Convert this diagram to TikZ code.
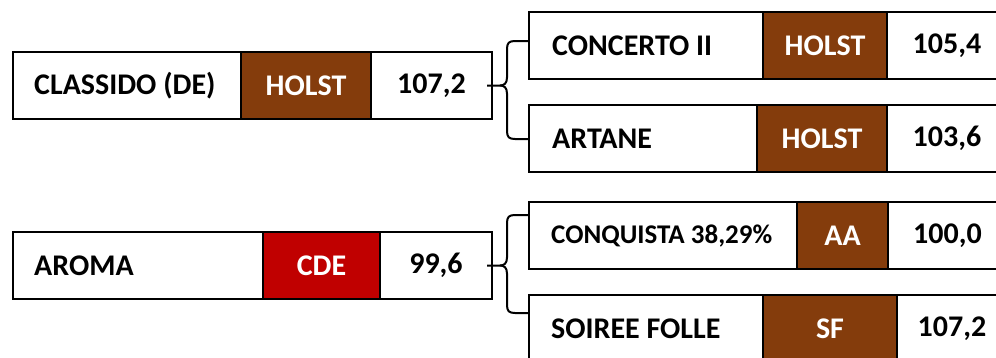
\documentclass[tikz,border=0pt]{standalone}
\usepackage{fontspec}
\setmainfont{Carlito}
\usetikzlibrary{calc}
\definecolor{brownc}{HTML}{843C0C}
\definecolor{redc}{HTML}{C00000}
\begin{document}
\begin{tikzpicture}[x=1pt,y=-1pt,
  cell/.style={draw=black, line width=2.6pt, minimum height=67pt, inner sep=0pt, outer sep=0pt, anchor=north west,
    font=\bfseries\fontsize{30}{30}\selectfont, text=black},
  tagb/.style={cell, fill=brownc, text=white},
  tagr/.style={cell, fill=redc, text=white},
  lbl/.style={anchor=west, inner sep=0pt, font=\bfseries\fontsize{30}{30}\selectfont, text=black},
  lbls/.style={lbl, font=\bfseries\fontsize{27}{27}\selectfont},
  bline/.style={draw=black, line width=2pt, line join=round}
]
\useasboundingbox (0,0) rectangle (996,357);
\clip (0,0) rectangle (996,357);
\fill[white] (0,0) rectangle (996,357);

% top-left row
\node[cell, minimum width=228pt] (a1) at (13,52) {};
\node[lbl] (a1t) at ($(a1.west)+(21,0)$) {CLASSIDO (DE)};
\node[tagb, minimum width=130pt] (a2) at (241,52) {HOLST};
\node[cell, minimum width=121pt] (a3) at (371,52) {107,2};

% top-right rows
\node[cell, minimum width=234pt] (b1) at (529,12) {};
\node[lbl] (b1t) at ($(b1.west)+(23,0)$) {CONCERTO II};
\node[tagb, minimum width=124pt] (b2) at (763,12) {HOLST};
\node[cell, minimum width=120pt] (b3) at (887,12) {105,4};

\node[cell, minimum width=228pt] (c1) at (529,105) {};
\node[lbl] (c1t) at ($(c1.west)+(23,0)$) {ARTANE};
\node[tagb, minimum width=130pt] (c2) at (757,105) {HOLST};
\node[cell, minimum width=120pt] (c3) at (887,105) {103,6};

% bottom-left row
\node[cell, minimum width=250pt] (d1) at (13,232) {};
\node[lbl] (d1t) at ($(d1.west)+(21,0)$) {AROMA};
\node[tagr, minimum width=117pt] (d2) at (263,232) {CDE};
\node[cell, minimum width=112pt] (d3) at (380,232) {99,6};

% bottom-right rows
\node[cell, minimum width=268pt] (e1) at (529,202) {};
\node[lbls] (e1t) at ($(e1.west)+(22,0)$) {CONQUISTA 38,29\%};
\node[tagb, minimum width=91pt] (e2) at (797,202) {AA};
\node[cell, minimum width=119pt] (e3) at (888,202) {100,0};

\node[cell, minimum width=234pt] (f1) at (529,295) {};
\node[lbl] (f1t) at ($(f1.west)+(22,0)$) {SOIREE FOLLE};
\node[tagb, minimum width=134pt] (f2) at (763,295) {SF};
\node[cell, minimum width=110pt] (f3) at (897,295) {107,2};

% braces
\draw[bline] ($(b1.north west)+(0,29)$) -- ++(-14,0)
  .. controls ++(-6,0) and ++(0,-6) .. ++(-8,8) -- ($(a3.east)+(15,-8)$)
  .. controls ++(0,6) and ++(4,0) .. ($(a3.east)+(8,0)$) -- ($(a3.east)+(-5,0)$);
\draw[bline] ($(a3.east)+(8,0)$) .. controls ++(4,0) and ++(0,-6) .. ($(a3.east)+(15,8)$)
  -- ($(c1.south west)+(-22,-41)$) .. controls ++(0,6) and ++(-6,0) .. ($(c1.south west)+(-14,-33)$) -- ($(c1.south west)+(0,-33)$);

\draw[bline] ($(e1.north west)+(0,13)$) -- ++(-14,0)
  .. controls ++(-6,0) and ++(0,-6) .. ++(-8,8) -- ($(d3.east)+(15,-8)$)
  .. controls ++(0,6) and ++(4,0) .. ($(d3.east)+(8,0)$) -- ($(d3.east)+(-5,0)$);
\draw[bline] ($(d3.east)+(8,0)$) .. controls ++(4,0) and ++(0,-6) .. ($(d3.east)+(15,8)$)
  -- ($(f1.north west)+(-22,10)$) .. controls ++(0,6) and ++(-6,0) .. ($(f1.north west)+(-14,18)$) -- ($(f1.north west)+(0,18)$);
\end{tikzpicture}
\end{document}
